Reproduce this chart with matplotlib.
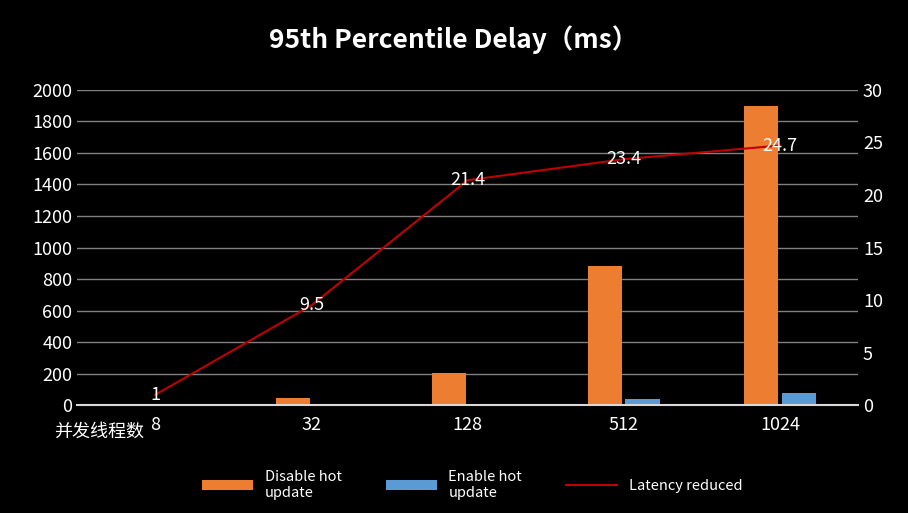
import matplotlib.pyplot as plt
import numpy as np

plt.rcParams['font.family'] = ['Noto Sans CJK SC', 'DejaVu Sans']

categories = ['8', '32', '128', '512', '1024']
disable_hot = [10, 45, 205, 880, 1900]
enable_hot = [8, 8, 2, 40, 80]
latency_reduced = [1, 9.5, 21.4, 23.4, 24.7]

fig = plt.figure(figsize=(9.08, 5.13), dpi=100, facecolor='black')
ax = fig.add_axes([0.085, 0.21, 0.86, 0.615], facecolor='black')
ax2 = ax.twinx()

x = np.arange(len(categories))
w = 0.22
ax.bar(x - w / 2 - 0.01, disable_hot, w, color='#ED7D31', label='Disable hot\nupdate', zorder=2)
ax.bar(x + w / 2 + 0.01, enable_hot, w, color='#5B9BD5', label='Enable hot\nupdate', zorder=2)
ax2.plot(x, latency_reduced, color='#C00000', lw=1.5, label='Latency reduced', zorder=3)
for xi, v in zip(x, latency_reduced):
    ax2.text(xi, v, f'{v:g}', color='white', fontsize=13, ha='center', va='center')

ax.set_ylim(0, 2000)
ax.set_yticks(range(0, 2001, 200))
ax2.set_ylim(0, 30)
ax2.set_yticks(range(0, 31, 5))
ax.set_xlim(-0.5, len(categories) - 0.5)
ax.set_xticks(x)
ax.set_xticklabels(categories)
ax.grid(axis='y', color='#808080', lw=1, zorder=0)
ax.set_axisbelow(True)
for a in (ax, ax2):
    for s in a.spines.values():
        s.set_visible(False)
    a.tick_params(colors='white', labelsize=13, length=0)
ax.spines['bottom'].set_visible(True)
ax.spines['bottom'].set_color('#d9d9d9')
ax.spines['bottom'].set_linewidth(1.5)
ax.tick_params(axis='x', pad=8)
ax.text(-0.07, -0.085, '并发线程数', transform=ax.get_xaxis_transform(), color='white',
        fontsize=13, ha='right', va='center')

fig.suptitle('95th Percentile Delay（ms）', color='white', fontsize=19, fontweight='bold', y=0.95)

h1, l1 = ax.get_legend_handles_labels()
h2, l2 = ax2.get_legend_handles_labels()
leg = fig.legend(h1 + h2, l1 + l2, loc='lower center', ncol=3, frameon=False,
                 bbox_to_anchor=(0.52, 0.0), fontsize=10.5, labelcolor='white',
                 handlelength=3.5, columnspacing=3)

fig.savefig('out.png', facecolor='black')
